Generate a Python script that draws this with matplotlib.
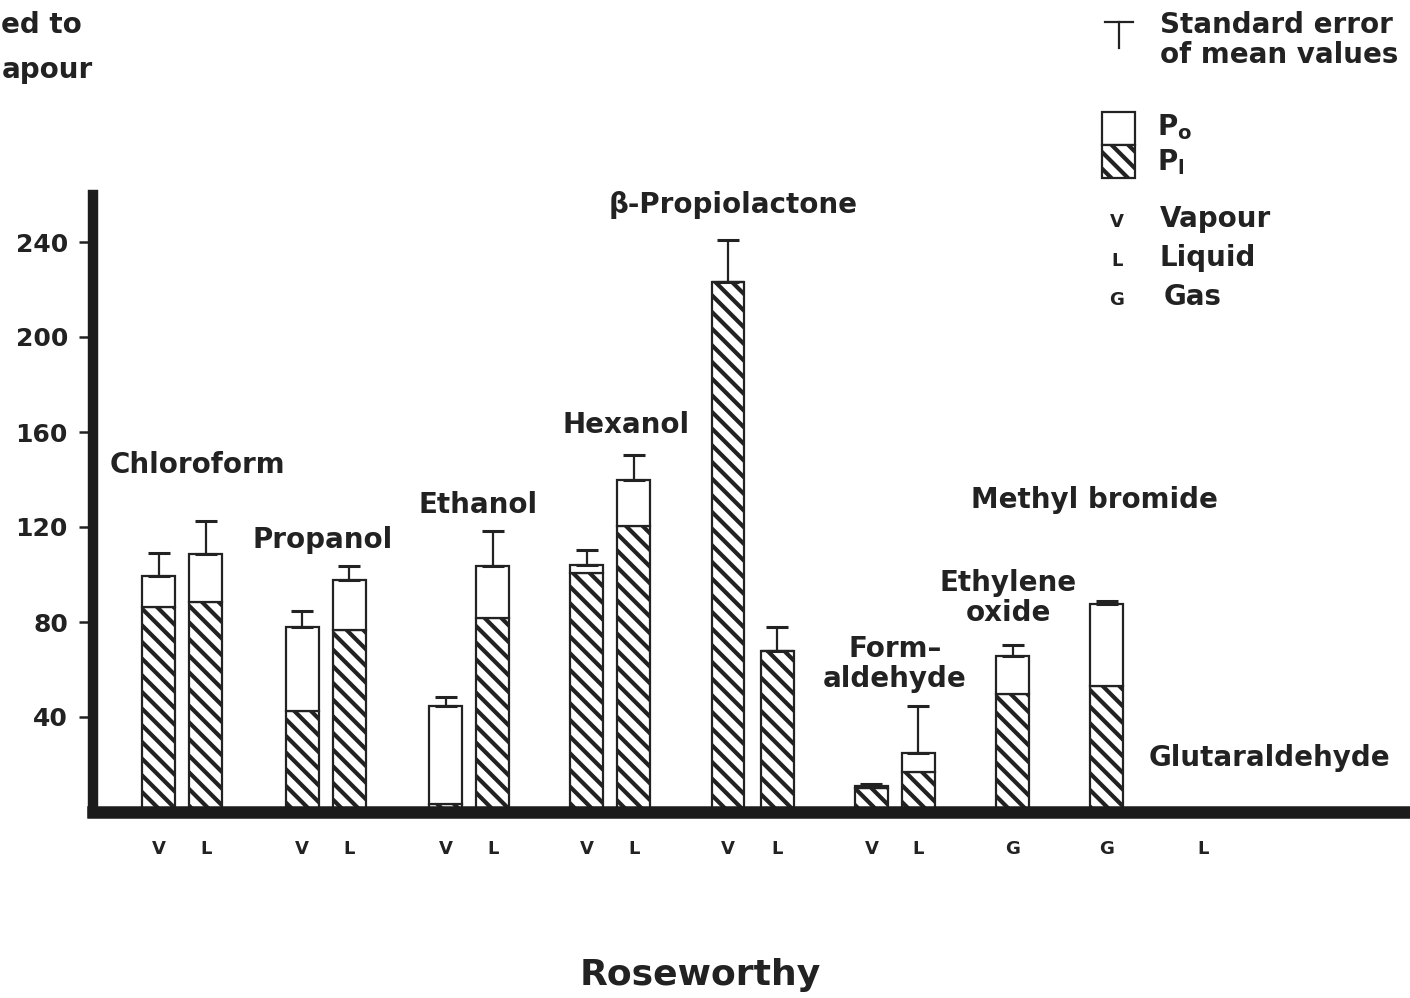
import matplotlib
matplotlib.use("Agg")
import matplotlib.pyplot as plt
from matplotlib.patches import Rectangle
from matplotlib.lines import Line2D
import numpy as np

plt.rcParams['font.family'] = ['DejaVu Sans']
plt.rcParams['font.weight'] = 'bold'
plt.rcParams['hatch.linewidth'] = 3.0
plt.rcParams['mathtext.default'] = 'bf'

ink = '#222222'

# bar positions (V / L / G pairs per compound) and states
xpos = [1.4, 2.4, 4.45, 5.45, 7.5, 8.5, 10.5, 11.5, 13.5, 14.55, 16.55, 17.55, 19.55, 21.55, 23.6]
state = ['V', 'L', 'V', 'L', 'V', 'L', 'V', 'L', 'V', 'L', 'V', 'L', 'G', 'G', 'L']
# total height (Po + Pi), the hatched Pi part and the mean + s.e.
total = [99.5, 108.5, 78, 97.5, 44.5, 103.5, 104, 140, 223, 68, 11, 25, 65.5, 87.5, 0.8]
p_i = [86.5, 88.5, 42.5, 76.5, 3.5, 81.5, 100.5, 120.5, 223, 68, 10, 17, 49.5, 53, 0.8]
upper = [109, 122.5, 84.5, 103.5, 48.5, 118.5, 110.5, 150.5, 241, 78, 12, 44.5, 70.5, 89, np.nan]

compounds = ['Chloroform', 'Propanol', 'Ethanol', 'Hexanol', 'β-Propiolactone',
             'Form–\naldehyde', 'Ethylene\noxide', 'Methyl bromide', 'Glutaraldehyde']
yticks = [40, 80, 120, 160, 200, 240]

W, H = 1410, 998


def px(x, y):
    return x / W, 1 - y / H


fig = plt.figure(figsize=(W / 100, H / 100), dpi=100)
ax = fig.add_axes([93 / W, 1 - 812 / H, 1 - 93 / W, (812 - 194.5) / H])

total = np.array(total)
p_i = np.array(p_i)
upper = np.array(upper)
width = 0.7

# hatched Pi part, then the open Po part stacked on it
ax.bar(xpos, p_i, width, color='white', edgecolor=ink, hatch='\\\\', linewidth=1.6, zorder=2)
ax.bar(xpos, total - p_i, width, bottom=p_i, color='white', edgecolor=ink, linewidth=1.6, zorder=2)

err = upper - total
ok = ~np.isnan(err)
ax.errorbar(np.array(xpos)[ok], total[ok], yerr=[np.zeros(ok.sum()), err[ok]],
            fmt='none', ecolor=ink, elinewidth=1.6, capsize=8, capthick=2.2, zorder=3)

ax.set_xlim(0, 28)
ax.set_ylim(0, 260)
ax.set_yticks(yticks)
ax.set_yticklabels([str(t) for t in yticks], fontsize=18, color=ink)
ax.tick_params(axis='y', length=10, width=1.8, pad=8, color=ink)
ax.set_xticks(xpos)
ax.set_xticklabels(state, fontsize=13, color=ink)
ax.tick_params(axis='x', length=0, pad=20)

for side in ['top', 'right']:
    ax.spines[side].set_visible(False)
ax.spines['left'].set_linewidth(7.5)
ax.spines['bottom'].set_linewidth(9)
for side in ['left', 'bottom']:
    ax.spines[side].set_color('#1c1c1c')
    ax.spines[side].set_capstyle('projecting')
    ax.spines[side].set_zorder(4)

# compound names over their bars
label_pos = [(197, 465), (323, 540), (478, 505), (626, 425), (733, 205),
             (895, 664), (1008, 598), (1094, 500), (1269, 758)]
for name, (x, y) in zip(compounds, label_pos):
    fig.text(*px(x, y), name, ha='center', va='center', fontsize=20, color=ink,
             linespacing=1.05)

# y label, only its tail fits on the page
fig.text(*px(1, 25), 'ed to', ha='left', va='center', fontsize=20, color=ink)
fig.text(*px(2, 70), 'apour', ha='left', va='center', fontsize=20, color=ink)

# key: error bar symbol
fig.add_artist(Line2D([1105 / W, 1133 / W], [1 - 22 / H] * 2, color=ink, lw=1.6,
                      transform=fig.transFigure))
fig.add_artist(Line2D([1119 / W] * 2, [1 - 22 / H, 1 - 48 / H], color=ink, lw=1.6,
                      transform=fig.transFigure))
fig.text(*px(1160, 25), 'Standard error', ha='left', va='center', fontsize=20, color=ink)
fig.text(*px(1160, 55), 'of mean values', ha='left', va='center', fontsize=20, color=ink)

# key: Po / Pi boxes
fig.add_artist(Rectangle(px(1102, 145), 33 / W, 33 / H, facecolor='white', edgecolor=ink,
                         lw=1.6, transform=fig.transFigure))
fig.add_artist(Rectangle(px(1102, 178), 33 / W, 33 / H, facecolor='white', edgecolor=ink,
                         lw=1.6, hatch='\\\\', transform=fig.transFigure))
fig.text(*px(1157, 127), r'$\mathbf{P_o}$', ha='left', va='center', fontsize=20, color=ink)
fig.text(*px(1157, 162), r'$\mathbf{P_l}$', ha='left', va='center', fontsize=20, color=ink)

# key: states
for y, s, word in [(219, 'V', 'Vapour'), (258, 'L', 'Liquid'), (297, 'G', 'Gas')]:
    fig.text(*px(1117, y + 3), s, ha='center', va='center', fontsize=13, color=ink)
    fig.text(*px(1160 if s != 'G' else 1164, y), word, ha='left', va='center',
             fontsize=20, color=ink)

fig.text(*px(700, 975), 'Roseworthy', ha='center', va='center', fontsize=26, color=ink)

fig.savefig('out.png', dpi=100, facecolor='white')
